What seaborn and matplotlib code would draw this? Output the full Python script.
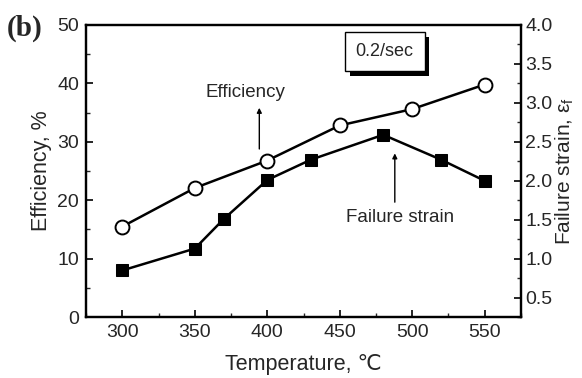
import matplotlib
matplotlib.use("Agg")
import matplotlib.pyplot as plt
import matplotlib.patheffects as pe
from matplotlib.ticker import MultipleLocator
import seaborn as sns
import pandas as pd

temp_eff = [300, 350, 400, 450, 500, 550]
efficiency = [15.5, 22.1, 26.8, 32.8, 35.6, 39.8]
temp_fs = [300, 350, 370, 400, 430, 480, 520, 550]
failure_strain = [0.85, 1.13, 1.51, 2.01, 2.27, 2.59, 2.27, 2.0]

x_ticks = [300, 350, 400, 450, 500, 550]
y_left_ticks = [0, 10, 20, 30, 40, 50]
y_right_ticks = [0.5, 1.0, 1.5, 2.0, 2.5, 3.0, 3.5, 4.0]

sns.set_style("ticks")
plt.rcParams['font.family'] = ['Liberation Sans', 'DejaVu Sans']
plt.rcParams['mathtext.fontset'] = 'custom'
plt.rcParams['mathtext.rm'] = 'Liberation Sans'
plt.rcParams['xtick.direction'] = 'in'
plt.rcParams['ytick.direction'] = 'in'

fig = plt.figure(figsize=(5.82, 3.78), dpi=100)
ax = fig.add_axes([0.148, 0.161, 0.747, 0.773])
ax2 = ax.twinx()

df_e = pd.DataFrame({"T": temp_eff, "E": efficiency})
df_f = pd.DataFrame({"T": temp_fs, "F": failure_strain})

sns.lineplot(data=df_e, x="T", y="E", ax=ax, color="black", lw=1.8,
             marker="o", markersize=10, markerfacecolor="white",
             markeredgecolor="black", markeredgewidth=1.4)
sns.lineplot(data=df_f, x="T", y="F", ax=ax2, color="black", lw=1.8,
             marker="s", markersize=9, markerfacecolor="black",
             markeredgecolor="black")

ax.set_xlim(275, 575)
ax.set_ylim(0, 50)
ax2.set_ylim(0.25, 4.0)
ax.set_xticks(x_ticks)
ax.set_yticks(y_left_ticks)
ax2.set_yticks(y_right_ticks)
ax.xaxis.set_minor_locator(MultipleLocator(25))
ax.yaxis.set_minor_locator(MultipleLocator(5))
ax2.yaxis.set_minor_locator(MultipleLocator(0.25))
ax2.set_yticklabels([f"{v:.1f}" for v in y_right_ticks])

for a in (ax, ax2):
    a.tick_params(which='major', length=5, width=1.2, labelsize=14, color='black',
                  direction='in', pad=5)
    a.tick_params(which='minor', length=3, width=1.0, direction='in')
    for s in a.spines.values():
        s.set_linewidth(1.6)
        s.set_color('black')
ax2.tick_params(axis='y', pad=3)

ax.set_xlabel("Temperature, \u2103", fontsize=15.5, labelpad=9)
ax.set_ylabel("Efficiency, %", fontsize=15.5, labelpad=4)
ax2.set_ylabel("Failure strain, \u03b5$_\\mathrm{f}$", fontsize=15, labelpad=1)

fig.text(0.012, 0.905, "(b)", fontsize=21, fontweight='bold', family='Liberation Serif')

ax.annotate("", xy=(394.5, 36.3), xytext=(394.5, 28.3),
            arrowprops=dict(arrowstyle='-|>', lw=1.0, color='black', mutation_scale=7))
ax.text(385, 38.5, "Efficiency", fontsize=13.5, ha='center', va='center')

ax.annotate("", xy=(488, 28.5), xytext=(488, 19.2),
            arrowprops=dict(arrowstyle='-|>', lw=1.0, color='black', mutation_scale=7))
ax.text(491.5, 17.0, "Failure strain", fontsize=13.5, ha='center', va='center')

t = ax.text(481, 45.4, "0.2/sec", fontsize=13, ha='center', va='center',
            bbox=dict(boxstyle='square,pad=0.6', fc='white', ec='black', lw=1.0))
t.get_bbox_patch().set_path_effects([
    pe.SimplePatchShadow(offset=(3.5, -3.5), shadow_rgbFace='black', alpha=1.0),
    pe.Normal()])

fig.savefig("out.png", dpi=100)
